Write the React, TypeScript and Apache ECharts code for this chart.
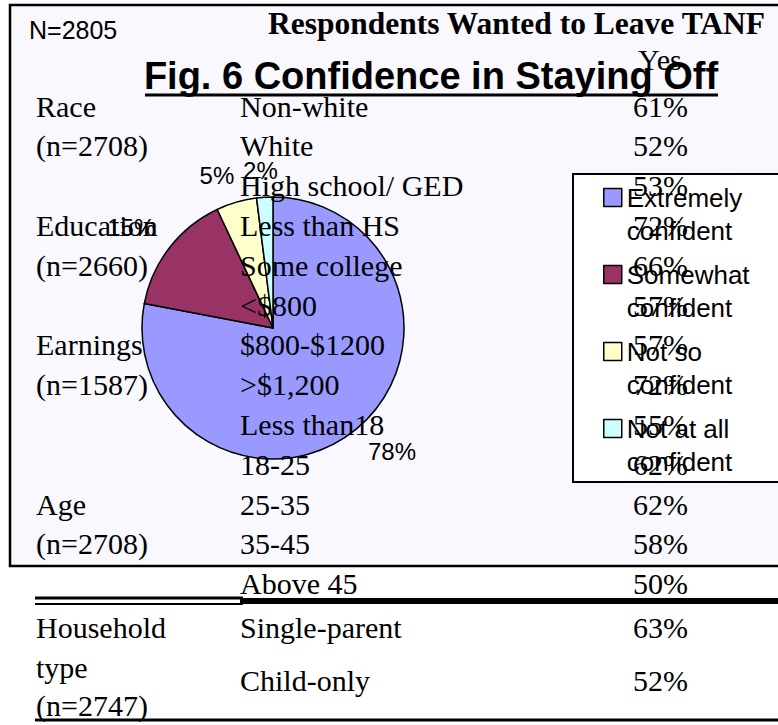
import React, { useEffect, useRef } from "react";
import * as echarts from "echarts";

// ---- Pie data ----
const pieNames = ["Extremely confident", "Somewhat confident", "Not so confident", "Not at all confident"];
const pieValues = [78, 15, 5, 2];
const pieColors = ["#9999FF", "#993366", "#FFFFCC", "#CCFFFF"];

// ---- Overlaid table ----
const groupLabels = ["Race", "(n=2708)", "", "Education", "(n=2660)", "", "Earnings", "(n=1587)", "", "", "Age", "(n=2708)", ""];
const subgroupLabels = ["Non-white", "White", "High school/ GED", "Less than HS", "Some college", "<$800", "$800-$1200", ">$1,200", "Less than18", "18-25", "25-35", "35-45", "Above 45"];
const yesPercents = [61, 52, 53, 72, 66, 57, 57, 72, 55, 62, 62, 58, 50];

const householdLabels = ["Household", "type", "(n=2747)"];
const householdTypes = ["Single-parent", "Child-only"];
const householdPercents = [63, 52];

const sampleNote = "N=2805";
const tableHeader = "Respondents Wanted to Leave TANF";
const yesHeader = "Yes";
const chartTitle = "Fig. 6 Confidence in Staying Off";

const SERIF = '"Liberation Serif", "Times New Roman", serif';
const SANS = '"Liberation Sans", Arial, sans-serif';

function txt(text: string, x: number, y: number, font: string, align = "left", z = 100) {
  return {
    type: "text",
    x,
    y,
    z,
    style: {
      text,
      font,
      fill: "#000",
      align,
      textAlign: align,
      verticalAlign: "middle",
      textVerticalAlign: "middle",
    },
  };
}

export default function App() {
  const ref = useRef<HTMLDivElement>(null);
  useEffect(() => {
    if (!ref.current) return;
    const chart = echarts.init(ref.current, undefined, { renderer: "svg" });
    const cx = 273, cy = 328, R = 131;
    const total = pieValues.reduce((a, b) => a + b, 0);

    const graphics: any[] = [];
    // slide frame
    graphics.push({ type: "rect", z: 0, shape: { x: 10, y: 5, width: 800, height: 561 }, style: { fill: "#F8F8FE", stroke: "#000", lineWidth: 2.5 } });
    // legend box
    graphics.push({ type: "rect", z: 1, shape: { x: 573, y: 174, width: 220, height: 308 }, style: { fill: "#FFFFFF", stroke: "#000", lineWidth: 2 } });

    graphics.push(txt(sampleNote, 29, 30, `25px ${SANS}`));
    graphics.push(txt(tableHeader, 268, 23, `bold 31.5px ${SERIF}`));
    graphics.push(txt(yesHeader, 638, 59, `30px ${SERIF}`));
    graphics.push(txt(chartTitle, 431, 76, `bold 38px ${SANS}`, "center"));
    graphics.push({ type: "line", z: 100, shape: { x1: 145, y1: 95, x2: 718, y2: 95 }, style: { stroke: "#000", lineWidth: 3 } });

    const rowY0 = 106, rowH = 39.8;
    for (let i = 0; i < subgroupLabels.length; i++) {
      const y = rowY0 + i * rowH;
      if (groupLabels[i]) graphics.push(txt(groupLabels[i], 36, y, `30px ${SERIF}`));
      graphics.push(txt(subgroupLabels[i], 240, y, `30px ${SERIF}`));
      graphics.push(txt(yesPercents[i] + "%", 633, y, `30px ${SERIF}`));
    }
    // separator lines
    graphics.push({ type: "line", z: 100, shape: { x1: 35, y1: 598, x2: 243, y2: 598 }, style: { stroke: "#000", lineWidth: 3 } });
    graphics.push({ type: "line", z: 100, shape: { x1: 35, y1: 604, x2: 243, y2: 604 }, style: { stroke: "#000", lineWidth: 2 } });
    graphics.push({ type: "line", z: 100, shape: { x1: 240, y1: 601, x2: 778, y2: 601 }, style: { stroke: "#000", lineWidth: 6 } });
    graphics.push({ type: "line", z: 100, shape: { x1: 35, y1: 720, x2: 778, y2: 720 }, style: { stroke: "#000", lineWidth: 3 } });

    const hhY = [627, 667, 705];
    householdLabels.forEach((l, i) => graphics.push(txt(l, 36, hhY[i], `30px ${SERIF}`)));
    const typeY = [627, 680];
    householdTypes.forEach((l, i) => {
      graphics.push(txt(l, 240, typeY[i], `30px ${SERIF}`));
      graphics.push(txt(householdPercents[i] + "%", 633, typeY[i], `30px ${SERIF}`));
    });

    const cum: number[] = [];
    let acc = 0;
    pieValues.forEach((v) => { cum.push(acc + v / 2); acc += v; });
    const clamp = (v: number) => Math.max(-1, Math.min(1, v));

    chart.setOption({
      animation: false,
      backgroundColor: "#FFFFFF",
      graphic: { elements: graphics },
      legend: {
        orient: "vertical",
        left: 603,
        top: 148,
        padding: 0,
        itemWidth: 18,
        itemHeight: 18,
        itemGap: -22,
        icon: "rect",
        data: pieNames,
        formatter: (name: string) => {
          const k = name.lastIndexOf(" ");
          return "\n" + name.slice(0, k) + "\n" + name.slice(k + 1);
        },
        itemStyle: { borderColor: "#000", borderWidth: 1.5 },
        textStyle: { fontFamily: SANS, fontSize: 26, lineHeight: 33, color: "#000" },
      },
      series: [
        {
          type: "pie",
          center: [cx, cy],
          radius: R,
          startAngle: 90,
          clockwise: true,
          z: 2,
          itemStyle: { borderColor: "#000", borderWidth: 1.5 },
          emphasis: { disabled: true },
          label: {
            show: true,
            position: "outside",
            formatter: (p: any) => p.value + "%",
            fontFamily: SANS,
            fontSize: 24,
            color: "#000",
          },
          labelLine: { show: false },
          labelLayout: (p: any) => {
            const f = cum[p.dataIndex] / total;
            const a = f * Math.PI * 2;
            const sx = Math.sin(a), sy = -Math.cos(a);
            const w = p.labelRect.width;
            const d = R + 18;
            const ax = cx + d * sx, ay = cy + d * sy;
            return {
              x: ax + (w / 2) * clamp(3 * sx),
              y: ay + 9 * clamp(3 * sy),
              align: "center",
              verticalAlign: "middle",
            };
          },
          data: pieNames.map((n, i) => ({ name: n, value: pieValues[i], itemStyle: { color: pieColors[i] } })),
        },
      ],
    });
    return () => chart.dispose();
  }, []);
  return <div ref={ref} style={{ position: "absolute", left: 0, top: 0, width: 778, height: 725 }} />;
}
